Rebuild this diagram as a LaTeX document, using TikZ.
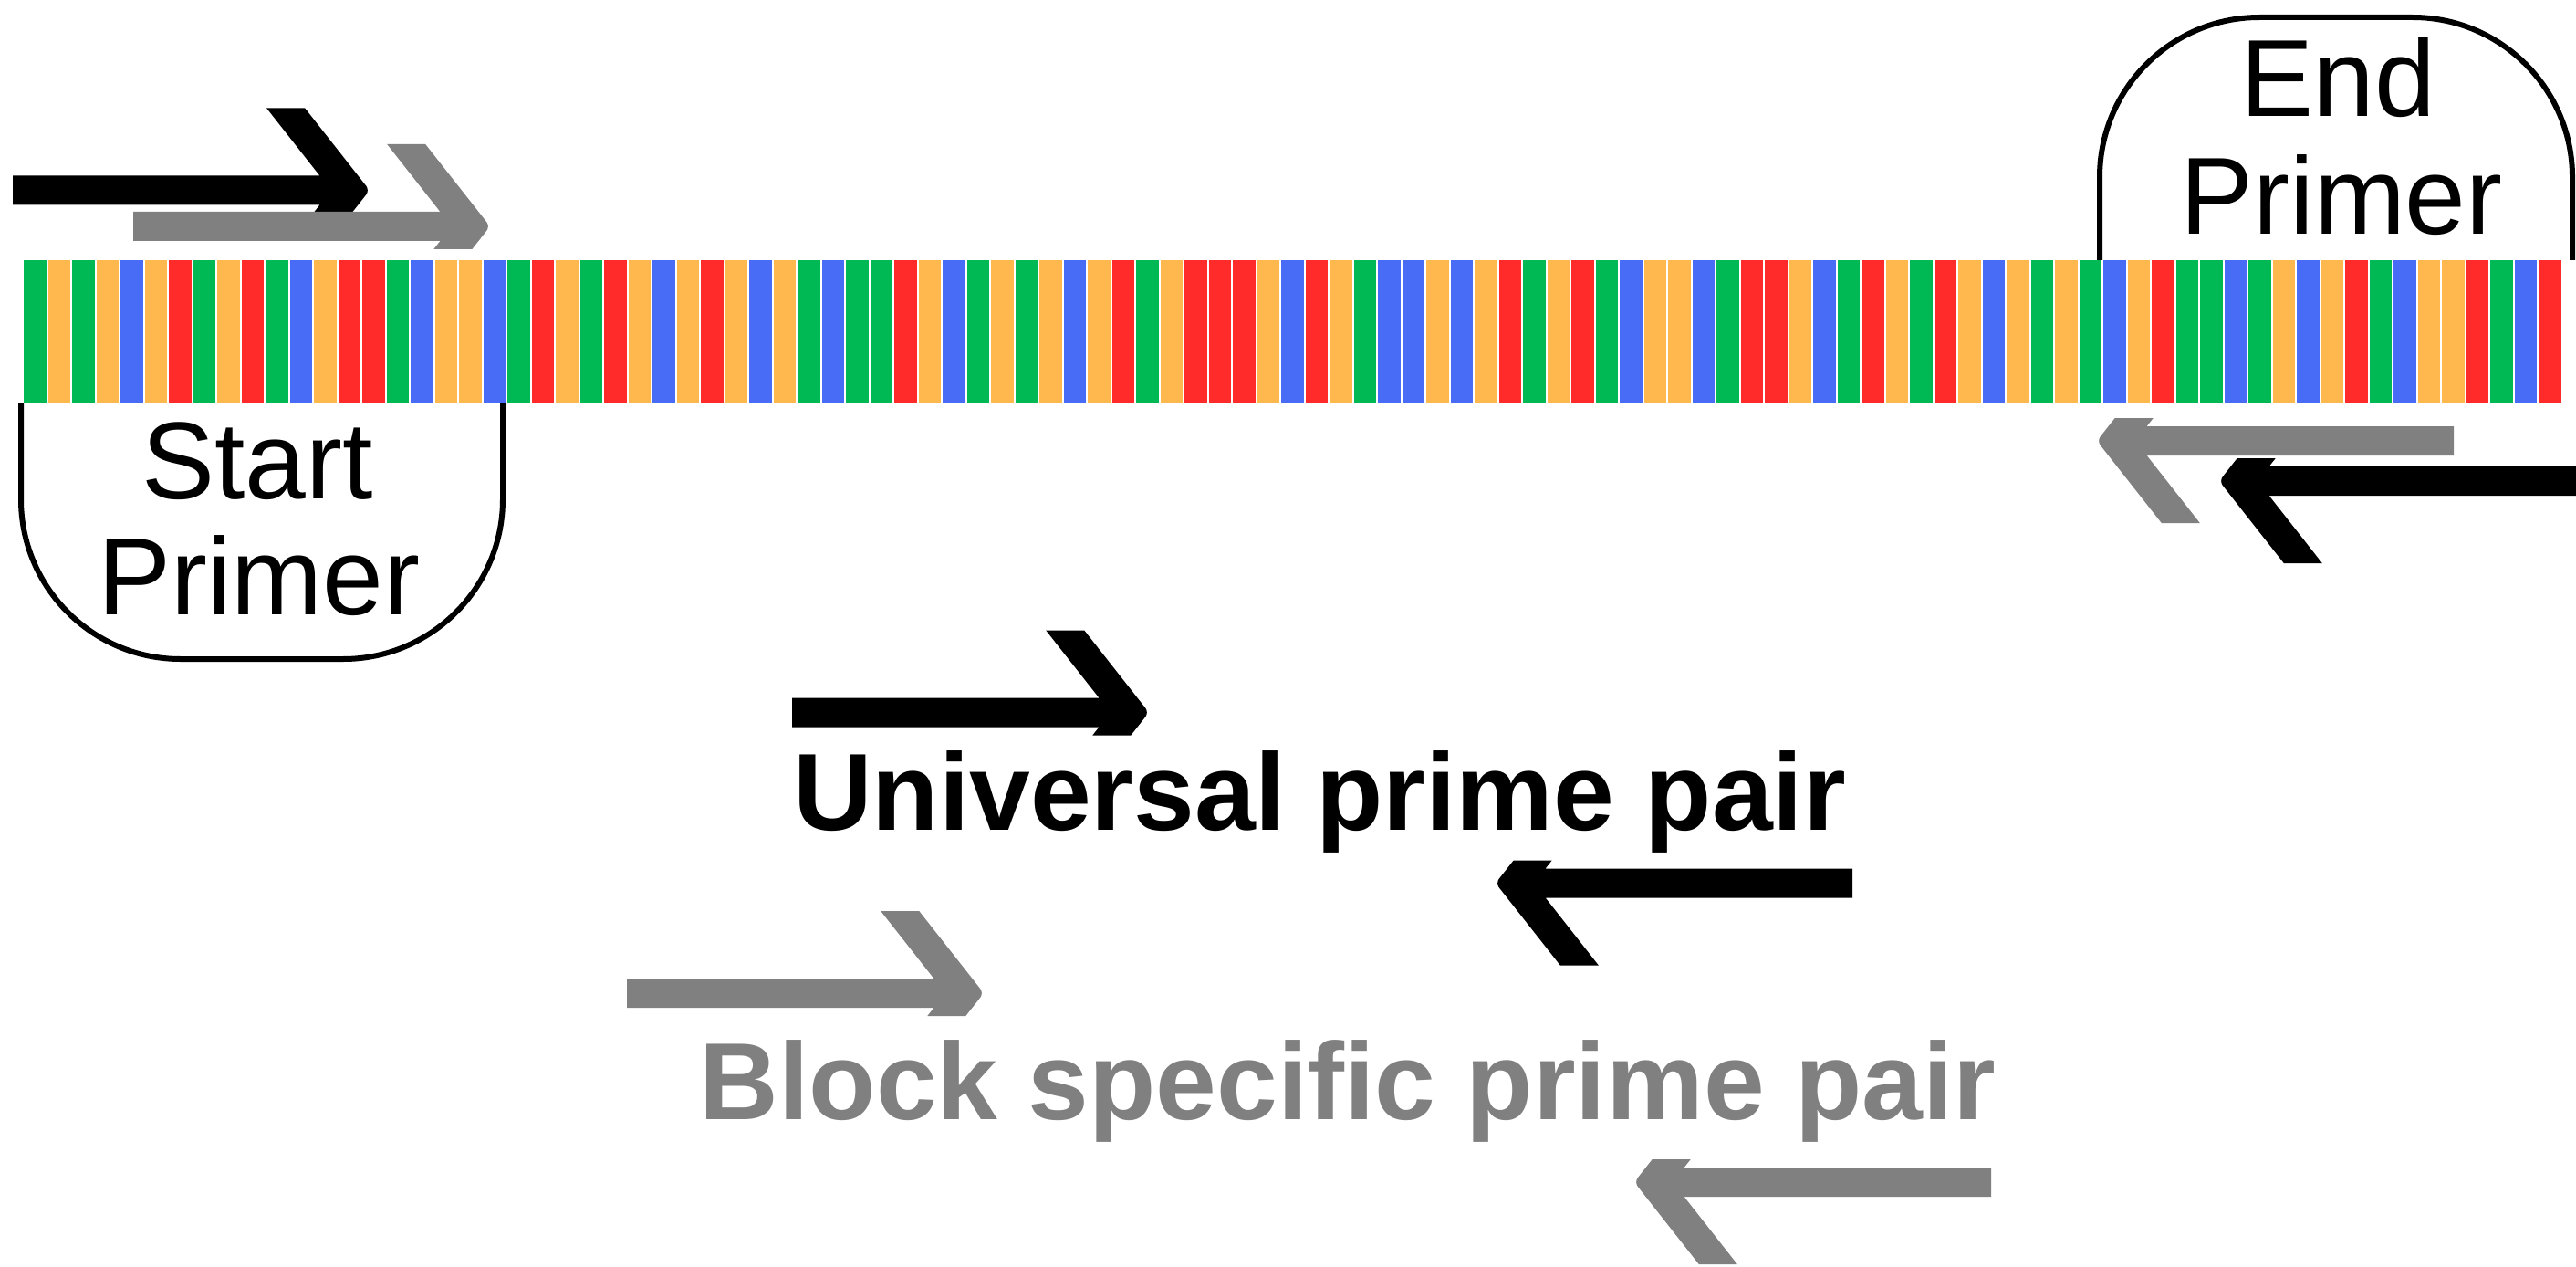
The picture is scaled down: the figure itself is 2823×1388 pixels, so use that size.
\documentclass[tikz,border=0pt]{standalone}
\usepackage{fontspec}
\setmainfont{Liberation Sans}

% nucleotide colours
\definecolor{ntG}{RGB}{0,184,84}
\definecolor{ntO}{RGB}{255,184,77}
\definecolor{ntR}{RGB}{255,43,43}
\definecolor{ntB}{RGB}{72,108,245}
\definecolor{primergrey}{RGB}{128,128,128}

% half-headed primer arrow: #1 colour, #2 tip x, #3 axis y, #4 direction (1 right, -1 left)
\newcommand\primerarrow[4]{%
  \begin{scope}[shift={(#2,#3)}, xscale=#4, yscale=#4]
    \fill[#1] (-391,16) -- (-391,-16) -- (-54.6,-16) -- (-112.8,-90) -- (-70.8,-90)
      [rounded corners=6pt] -- (0,0) [sharp corners] -- (-19.7,25) -- (-61.7,25)
      -- (-54.6,16) -- cycle;
  \end{scope}}

\begin{document}
\begin{tikzpicture}[x=1pt,y=-1pt,
  primerbox/.style={draw=black, line width=6pt, rounded corners=175pt},
  boxlabel/.style={anchor=base, font=\fontsize{120}{130}\selectfont, inner sep=0pt},
  pairlabel/.style={anchor=base, font=\fontsize{120}{130}\selectfont\bfseries, inner sep=0pt}]
\useasboundingbox (0,0) rectangle (2823,1388);
\clip (0,0) rectangle (2823,1388);
\fill[white] (0,0) rectangle (2823,1388);

% primer label boxes (open towards the sequence)
\draw[primerbox] (23,441) -- (23,722) -- (551,722) -- (551,441);
\draw[primerbox] (2301,285) -- (2301,19) -- (2819,19) -- (2819,285);

\node[boxlabel] (startA) at (282,546) {Start};
\node[boxlabel] (startB) at (284,673) {Primer};
\node[boxlabel] (endA) at (2562,128) {End};
\node[boxlabel] (endB) at (2566,257) {Primer};

% sequence bar
\foreach \c [count=\i from 0] in {
  G,O,G,O,B,O,R,G,O,R,G,B,O,R,R,G,B,
  O,O,B,G,R,O,G,R,O,B,O,R,O,B,O,G,B,G,
  G,R,O,B,G,O,G,O,B,O,R,G,O,R,R,R,O,B,
  R,O,G,B,B,O,B,O,R,G,O,R,G,B,O,O,B,G,
  R,R,O,B,G,R,O,G,R,O,B,O,G,O,G,B,O,
  R,G,G,B,G,O,B,O,R,G,B,O,O,R,G,B,R}
  \fill[nt\c] ({26+26.5*\i},285) rectangle ++(24.5,156);

% primers on the sequence
\primerarrow{black}{405}{208.5}{1}
\primerarrow{primergrey}{537}{248}{1}
\primerarrow{primergrey}{2298}{483}{-1}
\primerarrow{black}{2432}{527}{-1}

% legend
\primerarrow{black}{1259}{780.5}{1}
\node[pairlabel] (universal) at (1446,909) {Universal prime pair};
\primerarrow{black}{1639}{967.5}{-1}

\primerarrow{primergrey}{1078}{1088}{1}
\node[pairlabel, text=primergrey] (block) at (1477,1226) {Block specific prime pair};
\primerarrow{primergrey}{1791}{1295}{-1}
\end{tikzpicture}
\end{document}
